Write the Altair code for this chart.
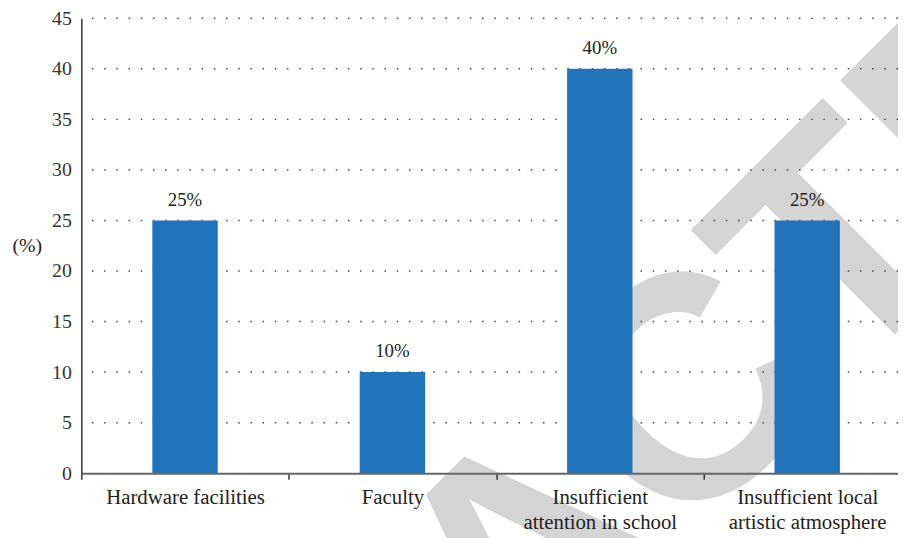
import altair as alt
import pandas as pd

categories = ["Hardware facilities", "Faculty", "Insufficient\nattention in school",
              "Insufficient local\nartistic atmosphere"]
values = [25, 10, 40, 25]
value_labels = ["25%", "10%", "40%", "25%"]
y_ticks = [0, 5, 10, 15, 20, 25, 30, 35, 40, 45]
grid_values = [5, 10, 15, 20, 25, 30, 35, 40, 45]
watermark = ["RETRACTED"]

df = pd.DataFrame({"cat": categories, "value": values, "label": value_labels})
grid_df = pd.DataFrame({"value": grid_values})
wm_df = pd.DataFrame({"t": watermark})

FONT = "Liberation Serif"

x = alt.X(
    "cat:N", sort=categories,
    scale=alt.Scale(range=[0, 837], paddingInner=0, paddingOuter=0),
    axis=alt.Axis(title=None, labelAngle=0, labelFont=FONT, labelFontSize=21,
                  labelColor="#222", labelPadding=8, labelLineHeight=25,
                  labelExpr="split(datum.label, '\\n')", tickBand="extent",
                  tickColor="#333", tickSize=6, tickWidth=1.5,
                  domainColor="#666", domainWidth=2, labelBaseline="top",
                  zindex=1),
)
y = alt.Y(
    "value:Q",
    scale=alt.Scale(domain=[0, 45], nice=False),
    axis=alt.Axis(values=y_ticks, grid=False, ticks=False, title="(%)",
                  titleAngle=0, titleFont=FONT, titleFontSize=20,
                  titleFontWeight="normal", titleColor="#222", titleX=-40,
                  titleY=229, titleAlign="right", titleBaseline="middle",
                  labelFont=FONT, labelFontSize=20, labelColor="#333",
                  labelPadding=10, domainColor="#333", domainWidth=1.5,
                  zindex=1),
)

wm = alt.Chart(wm_df).mark_text(
    angle=315, fontSize=320, font="Liberation Sans", fontWeight="bold",
    color="#d4d4d4", align="center", baseline="middle",
).encode(text="t:N", x=alt.value(455), y=alt.value(549))

grid = alt.Chart(grid_df).mark_rule(
    color="#444", strokeDash=[1.5, 10.8], strokeWidth=1.5
).encode(y=y)

bars = alt.Chart(df).mark_bar(color="#2173ba", width=66).encode(x=x, y=y)

text = alt.Chart(df).mark_text(
    dy=-15, baseline="alphabetic", font=FONT, fontSize=19, color="#222"
).encode(x=x, y=y, text="label:N")

chart = alt.layer(wm, grid, bars, text).properties(
    width=824, height=459,
    autosize=alt.AutoSizeParams(type="none"),
    padding={"left": 74, "top": 8, "right": 0, "bottom": 63},
).configure_view(stroke=None)

chart.save("out.html", embed_options={"renderer": "svg", "actions": False})
